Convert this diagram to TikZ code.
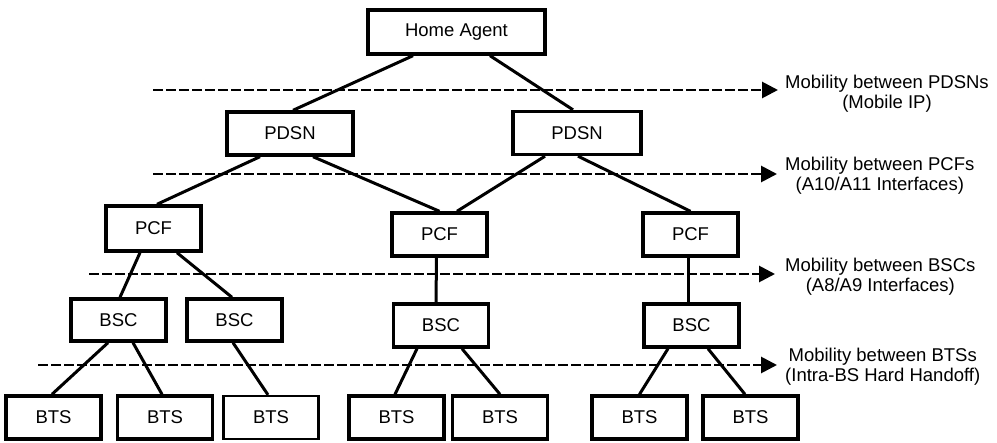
\documentclass[tikz,border=0pt]{standalone}
\usepackage{fontspec}
\setmainfont{Liberation Sans}
\usetikzlibrary{arrows.meta}
\begin{document}
\begin{tikzpicture}[x=1pt,y=-1pt,
  every node/.style={font=\fontsize{18.5}{20}\selectfont},
  netbox/.style={draw, line width=3.4pt, inner sep=0pt, minimum height=43pt, minimum width=95pt},
  link/.style={line width=3pt},
  mobline/.style={line width=2.8pt, dash pattern=on 10pt off 3pt, -{Triangle[length=16pt,width=16pt]}},
  mobtext/.style={anchor=north west, align=center, inner sep=0pt}
]
\useasboundingbox (0,0) rectangle (997,443);

% network hierarchy
\node[netbox, minimum width=177pt, minimum height=44pt] (ha) at (456.5,32) {Home Agent};
\node[netbox, minimum width=126pt] (pdsnL) at (290,133.5) {PDSN};
\node[netbox, minimum width=128pt] (pdsnR) at (577,133) {PDSN};

\node[netbox, minimum height=45pt] (pcfL) at (153.5,228.5) {PCF};
\node[netbox] (pcfM) at (439.5,234.5) {PCF};
\node[netbox] (pcfR) at (690.5,234.5) {PCF};

\node[netbox, minimum height=42pt] (bscA) at (118.5,320) {BSC};
\node[netbox, minimum height=42pt] (bscB) at (234.5,320) {BSC};
\node[netbox] (bscM) at (441,325.5) {BSC};
\node[netbox] (bscR) at (691.5,325.5) {BSC};

\node[netbox] (bts1) at (53.5,417.5) {BTS};
\node[netbox] (bts2) at (165,417.5) {BTS};
\node[netbox, line width=2.2pt] (bts3) at (271,417.5) {BTS};
\node[netbox] (bts4) at (396.5,417.5) {BTS};
\node[netbox] (bts5) at (500,417.5) {BTS};
\node[netbox] (bts6) at (639.5,417.5) {BTS};
\node[netbox] (bts7) at (750.5,417.5) {BTS};

% mobility levels
\coordinate (m1s) at (153,90);  \coordinate (m1e) at (778,90);
\coordinate (m2s) at (153,174); \coordinate (m2e) at (777,174);
\coordinate (m3s) at (89,274);  \coordinate (m3e) at (775,274);
\coordinate (m4s) at (38,365);  \coordinate (m4e) at (777,365);
\draw[mobline] (m1s) -- (m1e);
\draw[mobline] (m2s) -- (m2e);
\draw[mobline] (m3s) -- (m3e);
\draw[mobline] (m4s) -- (m4e);

\node[mobtext] (l1) at (785,75) {Mobility between PDSNs\\(Mobile IP)};
\node[mobtext] (l2) at (785,157) {Mobility between PCFs\\(A10/A11 Interfaces)};
\node[mobtext] (l3) at (785,258) {Mobility between BSCs\\(A8/A9 Interfaces)};
\node[mobtext] (l4) at (785,348) {Mobility between BTSs\\(Intra-BS Hard Handoff)};

% links
\draw[link] ([xshift=-43.5pt]ha.south) -- ([xshift=3pt]pdsnL.north);
\draw[link] ([xshift=33.5pt]ha.south) -- ([xshift=-4pt]pdsnR.north);

\draw[link] ([xshift=-30pt]pdsnL.south) -- ([xshift=3.5pt]pcfL.north);
\draw[link] ([xshift=23pt]pdsnL.south) -- ([xshift=0pt]pcfM.north);
\draw[link] ([xshift=-32pt]pdsnR.south) -- ([xshift=17.5pt]pcfM.north);
\draw[link] ([xshift=1pt]pdsnR.south) -- ([xshift=0pt]pcfR.north);

\draw[link] ([xshift=-13.5pt]pcfL.south) -- ([xshift=1.5pt]bscA.north);
\draw[link] ([xshift=23.5pt]pcfL.south) -- ([xshift=-2.5pt]bscB.north);
\draw[link] ([xshift=-3pt]pcfM.south) -- ([xshift=-5pt]bscM.north);
\draw[link] ([xshift=-2.5pt]pcfR.south) -- ([xshift=-3.5pt]bscR.north);

\draw[link] ([xshift=-10.5pt]bscA.south) -- ([xshift=-1.5pt]bts1.north);
\draw[link] ([xshift=14.5pt]bscA.south) -- ([xshift=-3pt]bts2.north);
\draw[link] ([xshift=-1.5pt]bscB.south) -- ([xshift=-3pt]bts3.north);
\draw[link] ([xshift=-24pt]bscM.south) -- ([xshift=-1.5pt]bts4.north);
\draw[link] ([xshift=21pt]bscM.south) -- ([xshift=0pt]bts5.north);
\draw[link] ([xshift=-23.5pt]bscR.south) -- ([xshift=0pt]bts6.north);
\draw[link] ([xshift=16.5pt]bscR.south) -- ([xshift=-5.5pt]bts7.north);
\end{tikzpicture}
\end{document}
